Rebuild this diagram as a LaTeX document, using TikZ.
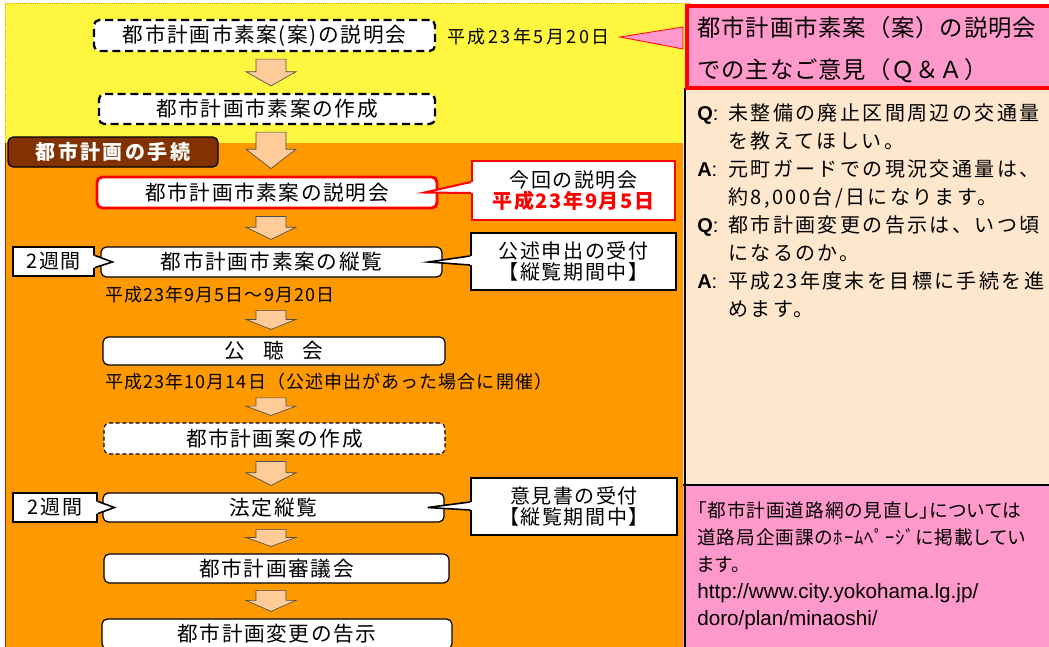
\documentclass[tikz,border=0pt]{standalone}
\usepackage{fontspec}
\setmainfont{Noto Sans CJK JP}
\newfontfamily\jp{Noto Sans CJK JP}
\newfontfamily\arial{Liberation Sans}
\usetikzlibrary{calc}

\definecolor{bgyellow}{RGB}{255,246,64}
\definecolor{procorange}{RGB}{255,153,0}
\definecolor{labelbrown}{RGB}{130,50,0}
\definecolor{arrowpeach}{RGB}{255,204,153}
\definecolor{qapink}{RGB}{255,153,204}
\definecolor{qapeach}{RGB}{255,231,206}
\definecolor{calloutred}{RGB}{255,0,0}

\newcommand{\pxu}{0.75pt}
\newcommand{\flowfont}{\jp\fontsize{15.5}{17}\selectfont\addfontfeature{LetterSpace=8}}
\newcommand{\procfont}{\jp\bfseries\fontsize{15}{18}\selectfont\addfontfeature{LetterSpace=12}}
\newcommand{\notefont}{\jp\fontsize{15}{16}\selectfont\addfontfeature{LetterSpace=8}}
\newcommand{\datefont}{\jp\fontsize{13.5}{16}\selectfont\addfontfeature{LetterSpace=6}}
\newcommand{\titlefont}{\jp\fontsize{17.5}{31.5}\selectfont\addfontfeature{LetterSpace=4}}
\newcommand{\qafont}{\jp\fontsize{15}{21}\selectfont\addfontfeature{LetterSpace=12}}
\newcommand{\linkfont}{\jp\fontsize{14}{20.25}\selectfont\addfontfeature{LetterSpace=5,RawFeature=+palt}}
\newcommand{\qmark}[1]{\makebox[23.25pt][l]{{\arial\bfseries #1}{\arial :}}}
\newcommand{\qindent}{\hspace*{23.25pt}}

\tikzset{
  flowbox/.style={draw=black, fill=white, rounded corners=4pt, line width=0.9pt,
    inner sep=0pt, font=\flowfont},
  flowsize/.style 2 args={minimum width={#1*\pxu}, minimum height={#2*\pxu}},
  dashbox/.style={flowbox, line width=1.7pt, dash pattern=on 6pt off 3.5pt},
  thindash/.style={flowbox, line width=0.8pt, dash pattern=on 3pt off 2pt},
  redbox/.style={flowbox, draw=calloutred, line width=2.2pt},
  procbox/.style={draw=black, fill=labelbrown, rounded corners=4pt, line width=1pt,
    inner sep=0pt, text=white, font=\procfont},
  notebox/.style={draw=black, fill=white, line width=1.5pt, inner sep=0pt,
    align=center, font=\notefont},
  datetext/.style={inner sep=0pt, anchor=west, font=\datefont},
  blockarrow/.style={fill=arrowpeach, draw=black!70, line width=0.5pt},
}

% block arrow between two boxes: top anchor, bottom anchor
\newcommand{\downblock}[2]{%
  \coordinate (tp) at ($(271,0 |- #1)+(0,7)$);
  \coordinate (tq) at ($(271,0 |- #2)+(0,-7)$);
  \coordinate (th) at ($(tp)!0.47!(tq)$);
  \filldraw[blockarrow] ($(tp)+(-15,0)$) -- ($(tp)+(15,0)$) -- ($(th)+(15,0)$)
    -- ($(th)+(25,0)$) -- (tq) -- ($(th)+(-25,0)$) -- ($(th)+(-15,0)$) -- cycle;}
% callout tail: colour, callout anchor, tip, dy1, dy2, inward shift
\newcommand{\notetail}[6]{%
  \fill[white] ($(#2)+(#6,#4)$) -- ($(#2)+(0,#4)$) -- (#3) -- ($(#2)+(0,#5)$)
    -- ($(#2)+(#6,#5)$) -- cycle;
  \draw[#1] ($(#2)+(0,#4)$) -- (#3) -- ($(#2)+(0,#5)$);}

\begin{document}
\begin{tikzpicture}[x=0.75pt, y=-0.75pt]
\useasboundingbox (0,0) rectangle (1049,646);
\clip (0,0) rectangle (1049,646);

% backgrounds
\filldraw[fill=bgyellow, draw=procorange, densely dotted, line width=0.6pt] (5,3) rectangle (690,143);
\fill[procorange] (5.5,143) rectangle (690,660);
\draw[labelbrown, line width=1pt] (5.5,143) -- (5.5,660);
\fill[qapeach] (683,88) rectangle (1055,485);
\fill[qapink] (683,485) rectangle (1055,660);
\draw[line width=1.5pt] (684.5,88) -- (684.5,660);
\draw[line width=1.5pt] (683,485) -- (1055,485);

% Q&A header
\node[draw=calloutred, fill=qapink, line width=3pt, inner sep=0pt, anchor=north west,
  minimum width={370*\pxu}, minimum height={82*\pxu}] (qahead) at (685,4) {};
\filldraw[fill=qapink, draw=calloutred, line width=0.6pt]
  ($(qahead.west)+(-2,-20)$) -- ($(qahead.west)+(-65,-10)$) -- ($(qahead.west)+(-2,2)$) -- cycle;
\node[inner sep=0pt, anchor=west, align=left, font=\titlefont] (qatitle) at (697,50)
  {都市計画市素案（案）の説明会\\での主なご意見（Ｑ＆Ａ）};

% flow
\node[dashbox, flowsize={341}{31}] (mtg0) at (264.5,35.5) {都市計画市素案(案)の説明会};
\node[datetext, font=\jp\fontsize{13.5}{16}\selectfont\addfontfeature{LetterSpace=14}] (date0) at (447,37) {平成23年5月20日};
\node[dashbox, flowsize={336}{30}] (draft0) at (267,109) {都市計画市素案の作成};
\node[procbox, flowsize={210}{30}] (proc) at (113,152) {都市計画の手続};
\node[redbox, flowsize={340}{31}] (mtg1) at (267,192.5) {都市計画市素案の説明会};
\node[flowbox, flowsize={341}{30}] (view1) at (271.5,262) {都市計画市素案の縦覧};
\node[datetext] (date1) at (105,295) {平成23年9月5日～9月20日};
\node[flowbox, flowsize={342}{28}] (hear) at (274,351) {公\hspace{0.9em}聴\hspace{0.9em}会};
\node[datetext] (date2) at (105,382) {平成23年10月14日（公述申出があった場合に開催）};
\node[thindash, flowsize={341}{31}] (draft1) at (274.5,438.5) {都市計画案の作成};
\node[flowbox, flowsize={341}{29}] (view2) at (273.5,507.5) {法定縦覧};
\node[flowbox, flowsize={345}{29}] (council) at (276.5,568.5) {都市計画審議会};
\node[flowbox, flowsize={350}{30}] (notice) at (277,634) {都市計画変更の告示};

\downblock{mtg0.south}{draft0.north}
\downblock{draft0.south}{mtg1.north}
\downblock{mtg1.south}{view1.north}
\downblock{date1.south}{hear.north}
\downblock{date2.south}{draft1.north}
\downblock{draft1.south}{view2.north}
\downblock{view2.south}{council.north}
\downblock{council.south}{notice.north}

% callouts
\node[notebox, draw=calloutred, flowsize={203}{59}] (note1) at (573.5,190.5)
  {今回の説明会\\{\color{calloutred}\bfseries 平成23年9月5日}};
\node[notebox, flowsize={205}{57}] (note2) at (573.5,261.5) {公述申出の受付\\【縦覧期間中】};
\node[notebox, flowsize={206}{57}] (note3) at (574,506.5) {意見書の受付\\【縦覧期間中】};
\node[notebox, flowsize={81}{29}] (weeks1) at (53.5,261.5) {2週間};
\node[notebox, flowsize={84}{29}] (weeks2) at (55,507.5) {2週間};

\notetail{calloutred, line width=1.5pt}{note1.west}{$(mtg1.east)+(-14,0)$}{-8.5}{2.5}{2}
\notetail{line width=1.2pt}{note2.west}{$(view1.east)+(-14,0)$}{-5.5}{3.5}{2}
\notetail{line width=1.2pt}{note3.west}{$(view2.east)+(-17,0)$}{-4.5}{3.5}{2}
\notetail{line width=1.2pt}{weeks1.east}{$(view1.west)+(12,0)$}{-6}{6}{-2}
\notetail{line width=1.2pt}{weeks2.east}{$(view2.west)+(12,0)$}{-6}{6}{-2}

% Q&A text
\node[inner sep=0pt, anchor=north west, align=left, font=\qafont] (qabody) at (697,103) {%
  \qmark{Q}未整備の廃止区間周辺の交通量\\
  \qindent を教えてほしい。\\
  \qmark{A}元町ガードでの現況交通量は、\\
  \qindent 約8,000台/日になります。\\
  \qmark{Q}都市計画変更の告示は、いつ頃\\
  \qindent になるのか。\\
  \qmark{A}平成23年度末を目標に手続を進\\
  \qindent めます。};

% link text
\node[inner sep=0pt, anchor=north west, align=left, font=\linkfont] (linkbody) at (697,501) {%
  「都市計画道路網の見直し」については\\
  道路局企画課のﾎｰﾑﾍﾟｰｼﾞに掲載してい\\
  ます。\\
  {\arial\fontsize{15.5}{20.25}\selectfont http://www.city.yokohama.lg.jp/}\\
  {\arial\fontsize{15.5}{20.25}\selectfont doro/plan/minaoshi/}};
\end{tikzpicture}
\end{document}
